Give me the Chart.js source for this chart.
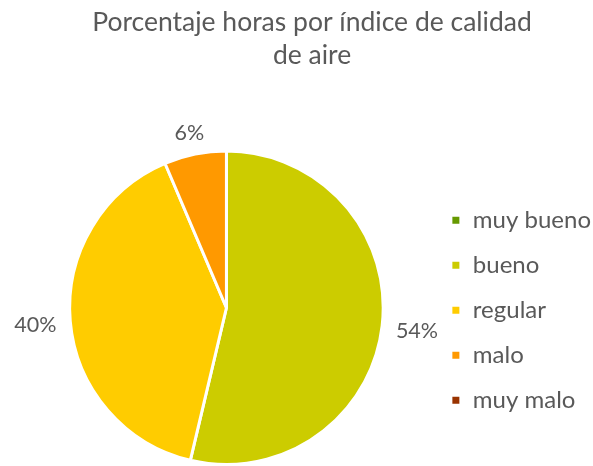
<!DOCTYPE html>
<html>
<head>
<meta charset="utf-8">
<script src="https://cdn.jsdelivr.net/npm/chart.js@4"></script>
<style>
  html, body { margin: 0; padding: 0; background: #ffffff; }
  canvas { display: block; }
</style>
</head>
<body>
<canvas id="aireChart" width="593" height="466"></canvas>
<script>
const categorias = ["muy bueno", "bueno", "regular", "malo", "muy malo"];
const porcentajes = [0, 53.7, 39.9, 6.4, 0];
const colores = ["#669900", "#cccc00", "#ffcc00", "#ff9900", "#993300"];

const textColor = "#595959";

// etiquetas de porcentaje fuera del pastel
const outsideLabels = {
  id: "outsideLabels",
  afterDatasetsDraw(chart) {
    const { ctx } = chart;
    const meta = chart.getDatasetMeta(0);
    ctx.save();
    ctx.font = "21.5px Lato";
    ctx.fillStyle = textColor;
    ctx.textAlign = "center";
    ctx.textBaseline = "middle";
    meta.data.forEach((arc, i) => {
      const value = porcentajes[i];
      if (!value) return;
      const { x, y, startAngle, endAngle, outerRadius } = arc.getProps(["x", "y", "startAngle", "endAngle", "outerRadius"], true);
      const mid = (startAngle + endAngle) / 2;
      const text = Math.round(value) + "%";
      const w = ctx.measureText(text).width;
      const h = 20;
      const cos = Math.cos(mid);
      const sin = Math.sin(mid);
      const r = outerRadius + 14;
      ctx.fillText(text, x + cos * (r + w / 2), y + sin * (r + h / 2) + 2);
    });
    ctx.restore();
  }
};

// pequeño ajuste vertical de la leyenda de la derecha
const legendNudge = {
  id: "legendNudge",
  afterLayout(chart) {
    chart.legend.top += 5;
  }
};

const ctx = document.getElementById("aireChart").getContext("2d");
const aireChart = new Chart(ctx, {
  type: "pie",
  data: {
    labels: categorias,
    datasets: [
      {
        data: porcentajes,
        backgroundColor: colores,
        borderColor: "#ffffff",
        borderWidth: 3,
      },
    ],
  },
  options: {
    responsive: false,
    animation: false,
    layout: {
      padding: { left: 23, right: -8, top: 0, bottom: -12 },
    },
    plugins: {
      title: {
        display: true,
        text: ["Porcentaje horas por índice de calidad", "de aire"],
        color: textColor,
        font: { family: "Lato", size: 26.5, weight: "normal", lineHeight: 1.245 },
        padding: { top: 5.5, bottom: 78 },
      },
      legend: {
        position: "right",
        fullSize: false,
        labels: {
          color: textColor,
          font: { family: "Lato", size: 24 },
          boxWidth: 10,
          boxHeight: 10,
          padding: 21,
        },
      },
      tooltip: { enabled: false },
    },
  },
  plugins: [legendNudge, outsideLabels],
});
</script>
</body>
</html>
